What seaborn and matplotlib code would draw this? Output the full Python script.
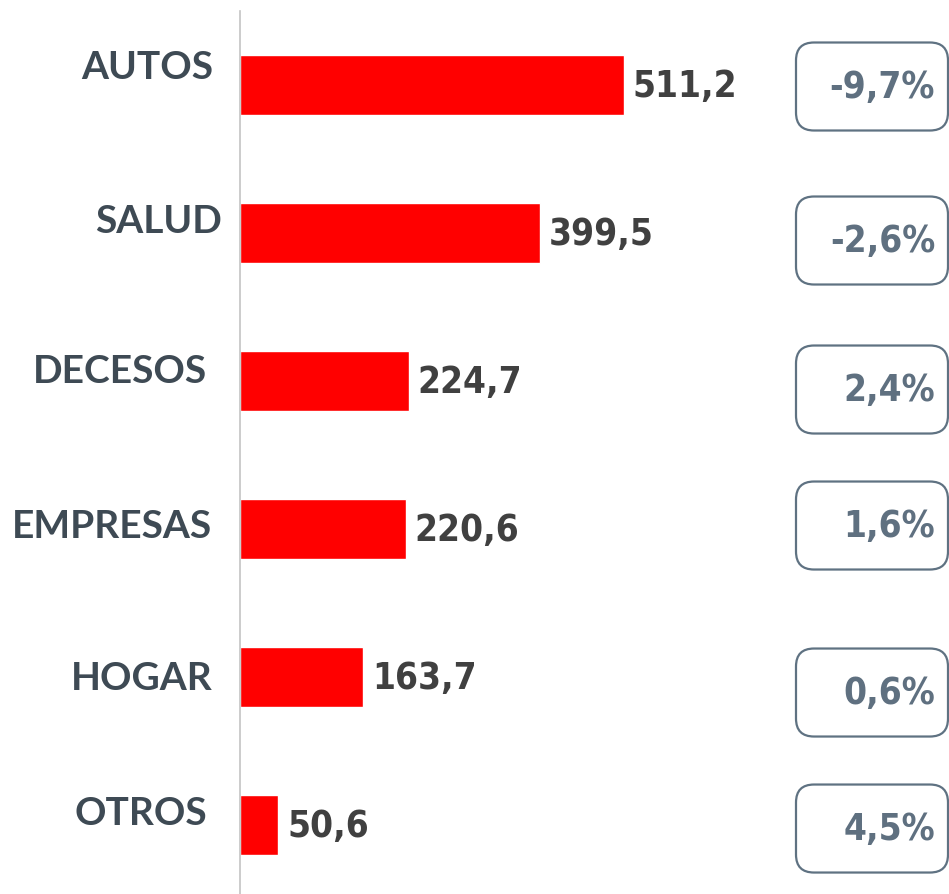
import matplotlib
matplotlib.use("Agg")
import matplotlib.pyplot as plt
import matplotlib.transforms as mtransforms
from matplotlib.patches import FancyBboxPatch
import seaborn as sns
import pandas as pd

categories = ["AUTOS", "SALUD", "DECESOS", "EMPRESAS", "HOGAR", "OTROS"]
values = [511.2, 399.5, 224.7, 220.6, 163.7, 50.6]
value_labels = ["511,2", "399,5", "224,7", "220,6", "163,7", "50,6"]
changes = ["-9,7%", "-2,6%", "2,4%", "1,6%", "0,6%", "4,5%"]

# layout (pixel offsets)
label_right = [213, 222, 207, 212, 213, 207]
label_dy = [19, 13, 11, 4, 0, 13]
box_dy = [-1.5, -7.5, -8.5, 3.5, -15.5, -3.5]

W, H = 949, 895
sns.set_theme(style="white")
plt.rcParams['font.family'] = ['Lato', 'DejaVu Sans']

fig = plt.figure(figsize=(W / 100, H / 100), dpi=100)
ax = fig.add_axes([240 / W, 0, 709 / W, 883 / H])

df = pd.DataFrame({"cat": categories, "val": values})
sns.barplot(data=df, x="val", y="cat", orient="h", color="#ff0000",
            saturation=1, width=0.4, ax=ax)
ax.set_xlim(0, 709 / 0.751)
ax.set_ylim(5.466, -0.5)
ax.set_xticks([])
ax.set_yticks([])
ax.set_xlabel("")
ax.set_ylabel("")
for s in ["top", "right", "bottom"]:
    ax.spines[s].set_visible(False)
ax.spines["left"].set_color("#c4c4c4")
ax.spines["left"].set_linewidth(1.2)

num_font = dict(family="DejaVu Sans", stretch="condensed", fontweight="bold",
                fontsize=26.5)

ident = mtransforms.IdentityTransform()
for i, cat in enumerate(categories):
    yc = ax.transData.transform((0, i))[1]
    xe = ax.transData.transform((values[i], i))[0]
    fig.text(label_right[i], yc + label_dy[i], cat, transform=ident,
             ha="right", va="center", fontsize=28, fontweight="bold",
             color="#3e4a54")
    fig.text(xe + 9, yc, value_labels[i], transform=ident,
             ha="left", va="center", color="#404040", **num_font)
    by = yc + box_dy[i]
    box = FancyBboxPatch((796, by - 44), 152, 88, transform=ident,
                         boxstyle="round,pad=0,rounding_size=18",
                         facecolor="white", edgecolor="#5f7282",
                         linewidth=1.6, clip_on=False)
    fig.patches.append(box)
    fig.text(935, by, changes[i], transform=ident, ha="right", va="center",
             color="#5f7080", **num_font)

fig.savefig("out.png", dpi=100)
